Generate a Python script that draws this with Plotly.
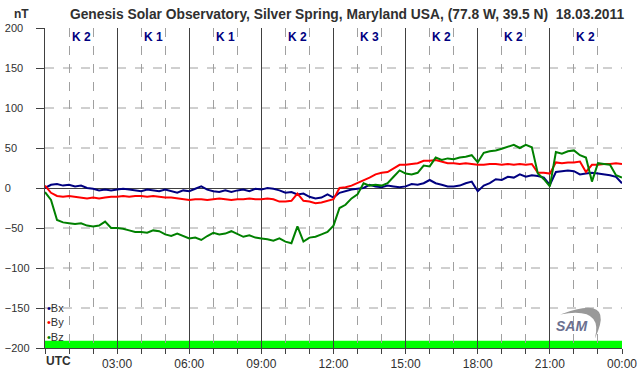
import plotly.graph_objects as go

# ---- data (hours UTC, nT) ----
hours = [0, 0.25, 0.5, 0.75, 1, 1.25, 1.5, 1.75, 2, 2.25, 2.5, 2.75,
         3, 3.25, 3.5, 3.75, 4, 4.25, 4.5, 4.75, 5, 5.25, 5.5, 5.75,
         6, 6.25, 6.5, 6.75, 7, 7.25, 7.5, 7.75, 8, 8.25, 8.5, 8.75,
         9, 9.25, 9.5, 9.75, 10, 10.25, 10.5, 10.75, 11, 11.25, 11.5, 11.75,
         12, 12.25, 12.5, 12.75, 13, 13.25, 13.5, 13.75, 14, 14.25, 14.5, 14.75,
         15, 15.25, 15.5, 15.75, 16, 16.25, 16.5, 16.75, 17, 17.25, 17.5, 17.75,
         18, 18.25, 18.5, 18.75, 19, 19.25, 19.5, 19.75, 20, 20.25, 20.5, 20.75,
         21, 21.25, 21.5, 21.75, 22, 22.25, 22.5, 22.75, 23, 23.25, 23.5, 23.75, 24]

bx = [0, 4, 5, 3, 4, 2, 3, 0, -1, -3, -2, -3,
      -2, -1, -2, -3, -4, -2, -3, -4, -2, -4, -6, -3,
      -4, -1, 2, -2, -4, -5, -3, -5, -3, -2, -4, -1,
      -2, 0, -1, -3, -6, -5, -8, -7, -11, -13, -12, -8,
      -12, -6, -4, -2, -1, 0, 4, 2, 1, 3, 2, 1,
      2, 5, 4, 6, 10, 6, 4, 2, 2, 3, 6, 8,
      -4, 3, 6, 11, 10, 14, 13, 17, 14, 16, 15, 13,
      4, 20, 21, 22, 21, 17, 18, 19, 18, 17, 16, 14, 6]

by = [3, -6, -10, -11, -10, -11, -12, -13, -12, -13, -12, -11,
      -11, -10, -11, -10, -10, -11, -10, -11, -12, -12, -13, -14,
      -15, -14, -14, -15, -14, -13, -14, -15, -14, -14, -13, -14,
      -14, -13, -14, -17, -17, -16, -7, -16, -17, -19, -18, -16,
      -14, 0, 1, 3, 6, 10, 13, 17, 19, 20, 24, 29,
      29, 30, 31, 34, 34, 35, 33, 31, 31, 30, 31, 30,
      29, 29, 30, 30, 29, 30, 29, 30, 29, 30, 19, 19,
      18, 32, 31, 32, 32, 33, 20, 29, 29, 30, 30, 31, 30]

bz = [-5, -15, -40, -43, -44, -45, -44, -47, -48, -47, -42, -50,
      -50, -51, -53, -55, -55, -56, -53, -54, -58, -60, -57, -60,
      -63, -62, -65, -60, -56, -58, -57, -54, -58, -61, -59, -62,
      -63, -64, -66, -63, -67, -69, -48, -67, -62, -61, -58, -55,
      -47, -25, -21, -13, -8, 6, 3, 4, 3, 6, 14, 22,
      18, 17, 19, 28, 27, 38, 35, 37, 36, 38, 39, 41,
      32, 44, 46, 47, 49, 52, 54, 50, 54, 51, 18, 11,
      2, 45, 43, 46, 47, 41, 38, 8, 31, 30, 29, 16, 13]

series_names = ["Bx", "By", "Bz"]
series_colors = ["#000080", "#ff0000", "#008000"]

k_centers = [1.5, 4.5, 7.5, 10.5, 13.5, 16.5, 19.5, 22.5]
k_labels = ["K 2", "K 1", "K 1", "K 2", "K 3", "K 2", "K 2", "K 2"]

x_tickvals = [0, 3, 6, 9, 12, 15, 18, 21, 24]
x_ticktext = ["", "03:00", "06:00", "09:00", "12:00", "15:00", "18:00", "21:00", "00:00"]
y_tickvals = [-200, -150, -100, -50, 0, 50, 100, 150, 200]
y_grid_dashed = [-150, -100, -50, 50, 100, 150]

FONT = "Liberation Sans, Arial, sans-serif"
AX = "#404040"
TXT = "#303030"

W, H = 642, 376

fig = go.Figure()
for name, vals, col in zip(series_names, [bx, by, bz], series_colors):
    fig.add_trace(go.Scatter(x=hours, y=vals, mode="lines", name=name,
                             line=dict(color=col, width=2), showlegend=False))

shapes = []
# green status band at the bottom
shapes.append(dict(type="rect", xref="x", yref="y", x0=0, x1=24, y0=-200, y1=-191,
                   fillcolor="#00ff00", line=dict(width=0), layer="below"))
for yv in y_grid_dashed:
    shapes.append(dict(type="line", xref="x", yref="y", x0=0, x1=24, y0=yv, y1=yv,
                       line=dict(color="#a0a0a0", width=1, dash="dash"), layer="below"))
# SAM logo swoosh
shapes.append(dict(type="path", xref="paper", yref="paper",
                   path="M 0.893,0.105 Q 0.99,0.17 0.953,0.03 Q 0.968,0.13 0.893,0.105 Z",
                   fillcolor="#999999", line=dict(width=0), layer="above"))

annotations = []
for xc, lab in zip(k_centers, k_labels):
    annotations.append(dict(x=xc, xref="x", y=0.972, yref="paper", text="<b>%s</b>" % lab,
                            showarrow=False, font=dict(family=FONT, size=12, color="#000080"),
                            xanchor="center", yanchor="middle"))
annotations.append(dict(x=0, xref="paper", y=-0.04, yref="paper", text="<b>UTC</b>",
                        showarrow=False, font=dict(family=FONT, size=12, color=TXT),
                        xanchor="left", yanchor="middle", xshift=-1))
annotations.append(dict(x=-0.04, xref="paper", y=1.044, yref="paper", text="<b>nT</b>",
                        showarrow=False, font=dict(family=FONT, size=12, color=TXT),
                        xanchor="center", yanchor="middle"))
legend_text = "<br>".join("<span style='color:%s'>•</span>%s" % (c, n)
                          for n, c in zip(series_names, series_colors))
annotations.append(dict(x=0, xref="paper", y=0.08, yref="paper", text=legend_text,
                        showarrow=False, font=dict(family=FONT, size=11, color=TXT),
                        xanchor="left", yanchor="middle", align="left", xshift=1, borderpad=0))
annotations.append(dict(x=0.912, xref="paper", y=0.07, yref="paper", text="<i><b>SAM</b></i>",
                        showarrow=False, font=dict(family=FONT, size=14, color="#6b7090"),
                        xanchor="center", yanchor="middle"))

fig.update_layout(
    width=W, height=H,
    margin=dict(l=45, r=20, t=28, b=28, autoexpand=False),
    paper_bgcolor="white", plot_bgcolor="white",
    title=dict(text="<b>Genesis Solar Observatory, Silver Spring, Maryland USA, (77.8 W, 39.5 N)  18.03.2011</b>",
               x=347 / W, xanchor="center", y=1 - 14 / H, yanchor="middle",
               font=dict(family=FONT, size=13.8, color=TXT)),
    font=dict(family=FONT, size=12, color=TXT),
    shapes=shapes, annotations=annotations,
    xaxis=dict(range=[0, 24], tickvals=x_tickvals, ticktext=x_ticktext,
               showline=True, linecolor=AX, linewidth=1,
               ticks="outside", ticklen=5, tickcolor=AX,
               showgrid=True, gridcolor=AX, gridwidth=1,
               zeroline=False, automargin=False,
               minor=dict(dtick=1, tick0=0, ticks="outside", ticklen=5, tickcolor=AX,
                          showgrid=True, gridcolor="#a0a0a0", griddash="dash", gridwidth=1),
               tickfont=dict(family=FONT, size=12, color=TXT), fixedrange=True),
    yaxis=dict(range=[-200, 200], tickvals=y_tickvals,
               showline=True, linecolor=AX, linewidth=1,
               ticks="outside", ticklen=8, tickcolor=AX,
               showgrid=False, zeroline=True, zerolinecolor=AX, zerolinewidth=1,
               ticklabelposition="inside", ticklabelstandoff=-41,
               ticklabeloverflow="allow", automargin=False,
               tickfont=dict(family=FONT, size=11, color=TXT), fixedrange=True),
    showlegend=False,
)

# remove the default 8px page margin so the figure sits at the window's top-left
fig.write_html("out.html", config={"displayModeBar": False},
               post_script="document.body.style.margin='0';")
